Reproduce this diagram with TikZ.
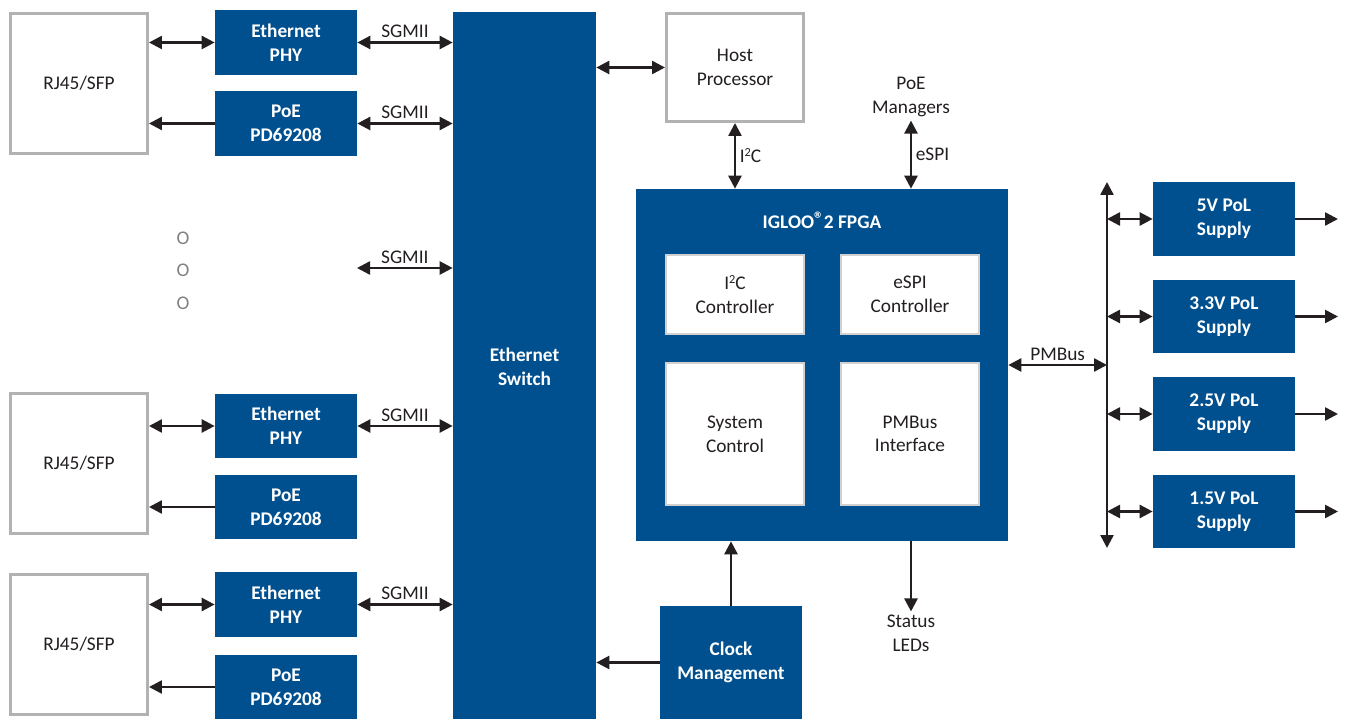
\documentclass[tikz,border=0pt]{standalone}
\usepackage{fontspec}
\setmainfont{Carlito}
\usetikzlibrary{arrows.meta}

\definecolor{chipblue}{RGB}{0,80,143}
\definecolor{boxgray}{RGB}{178,178,178}
\definecolor{ink}{RGB}{35,31,32}

% small raised marks
\newcommand{\upmark}[1]{\raisebox{0.6ex}{\fontsize{7}{7}\selectfont #1}}

\begin{document}
\begin{tikzpicture}[
        % pixel-like units, y pointing down
        x=0.02cm, y=-0.02cm,
        every node/.style={font=\fontsize{11}{13.5}\selectfont, text=ink, align=center, inner sep=2pt},
        blk/.style={fill=chipblue, text=white, font=\fontsize{11}{13.5}\selectfont\bfseries, inner sep=0pt},
        phy/.style={blk, minimum width=2.84cm, minimum height=1.3cm},
        supply/.style={blk, minimum width=2.84cm, minimum height=1.48cm},
        gbox/.style={draw=boxgray, line width=0.06cm, fill=white, inner sep=0pt},
        ibox/.style={draw=boxgray!60, line width=0.04cm, fill=white, inner sep=0pt, minimum width=2.76cm},
        dots/.style={text=gray, font=\fontsize{11}{13.5}\selectfont},
        arr/.style={draw=ink, line width=0.05cm, -{Triangle[length=0.26cm,width=0.26cm]}},
        darr/.style={draw=ink, line width=0.05cm, {Triangle[length=0.26cm,width=0.26cm]}-{Triangle[length=0.26cm,width=0.26cm]}}
    ]
        \useasboundingbox (0,0) rectangle (1346,719);

        % Ethernet switch
        \node[blk, minimum width=2.86cm, minimum height=14.18cm] (sw) at (524.5,366.5) {Ethernet\\Switch};

        % Port group 1
        \node[gbox, minimum width=2.74cm, minimum height=2.8cm] (rj1) at (79,83.5) {RJ45/SFP};
        \node[phy] (phy1) at (286,42.5) {Ethernet\\PHY};
        \node[phy] (poe1) at (286,123.5) {PoE\\PD69208};
        \draw[darr] (phy1.west -| rj1.east) -- (phy1.west);
        \draw[arr] (poe1.west) -- (poe1.west -| rj1.east);
        \draw[darr] (phy1.east) -- node[above] {SGMII} (phy1.east -| sw.west);
        \draw[darr] (poe1.east) -- node[above] {SGMII} (poe1.east -| sw.west);

        % more ports
        \node[dots] (d1) at (183,238) {O};
        \node[dots] (d2) at (183,270.5) {O};
        \node[dots] (d3) at (183,303) {O};
        \coordinate (sgfree) at (357,268);
        \draw[darr] (sgfree) -- node[above] {SGMII} (sgfree -| sw.west);

        % Port group 2
        \node[gbox, minimum width=2.74cm, minimum height=2.8cm] (rj2) at (79,463.5) {RJ45/SFP};
        \node[phy] (phy2) at (286,426) {Ethernet\\PHY};
        \node[phy] (poe2) at (286,507) {PoE\\PD69208};
        \draw[darr] (phy2.west -| rj2.east) -- (phy2.west);
        \draw[arr] (poe2.west) -- (poe2.west -| rj2.east);
        \draw[darr] (phy2.east) -- node[above] {SGMII} (phy2.east -| sw.west);

        % Port group 3
        \node[gbox, minimum width=2.74cm, minimum height=2.8cm] (rj3) at (79,644.5) {RJ45/SFP};
        \node[phy] (phy3) at (286,604.5) {Ethernet\\PHY};
        \node[phy] (poe3) at (286,687) {PoE\\PD69208};
        \draw[darr] (phy3.west -| rj3.east) -- (phy3.west);
        \draw[arr] (poe3.west) -- (poe3.west -| rj3.east);
        \draw[darr] (phy3.east) -- node[above] {SGMII} (phy3.east -| sw.west);

        % Host processor
        \node[gbox, minimum width=2.74cm, minimum height=2.16cm] (host) at (735,67.5) {Host\\Processor};
        \draw[darr] (host.west -| sw.east) -- (host.west);

        % FPGA and its blocks
        \node[blk, minimum width=7.44cm, minimum height=7.04cm] (fpga) at (822,365) {};
        \node[text=white, font=\fontsize{11}{13.5}\selectfont\bfseries] (fpgat) at (822,220) {IGLOO\raisebox{0.35ex}{®}2 FPGA};
        \node[ibox, minimum height=1.58cm] (i2cc) at (735,294.5) {I\upmark{2}C\\Controller};
        \node[ibox, minimum height=1.58cm] (espic) at (910,294.5) {eSPI\\Controller};
        \node[ibox, minimum height=2.84cm] (sysc) at (735,434) {System\\Control};
        \node[ibox, minimum height=2.84cm] (pmbi) at (910,434) {PMBus\\Interface};

        \draw[darr] (host.south) -- node[right] {I\upmark{2}C} (host.south |- fpga.north);
        \node (poem) at (911,97) {PoE\\Managers};
        \draw[darr] (poem.south |- fpga.north) -- node[right] {eSPI} (poem.south);
        \node (leds) at (911,633.5) {Status\\LEDs};
        \draw[arr] (leds.north |- fpga.south) -- (leds.north);

        % Clock management
        \node[blk, minimum width=2.84cm, minimum height=2.26cm] (clk) at (731,662.5) {Clock\\Management};
        \draw[arr] (clk.north) -- (clk.north |- fpga.south);
        \draw[arr] (clk.west) -- (clk.west -| sw.east);

        % PMBus and point-of-load supplies
        \coordinate (bustop) at (1107,182);
        \coordinate (busbot) at (1107,548);
        \draw[darr] (bustop) -- (busbot);
        \draw[darr] (fpga.east) -- node[above] {PMBus} (fpga.east -| bustop);

        \node[supply] (s5) at (1224,219) {5V PoL\\Supply};
        \node[supply] (s33) at (1224,316.5) {3.3V PoL\\Supply};
        \node[supply] (s25) at (1224,414) {2.5V PoL\\Supply};
        \node[supply] (s15) at (1224,511.5) {1.5V PoL\\Supply};
        \coordinate (out) at (1338,0);
        \foreach \s in {s5,s33,s25,s15}{
            \draw[darr] (\s.west -| bustop) -- (\s.west);
            \draw[arr] (\s.east) -- (\s.east -| out);
        }
    \end{tikzpicture}
\end{document}
